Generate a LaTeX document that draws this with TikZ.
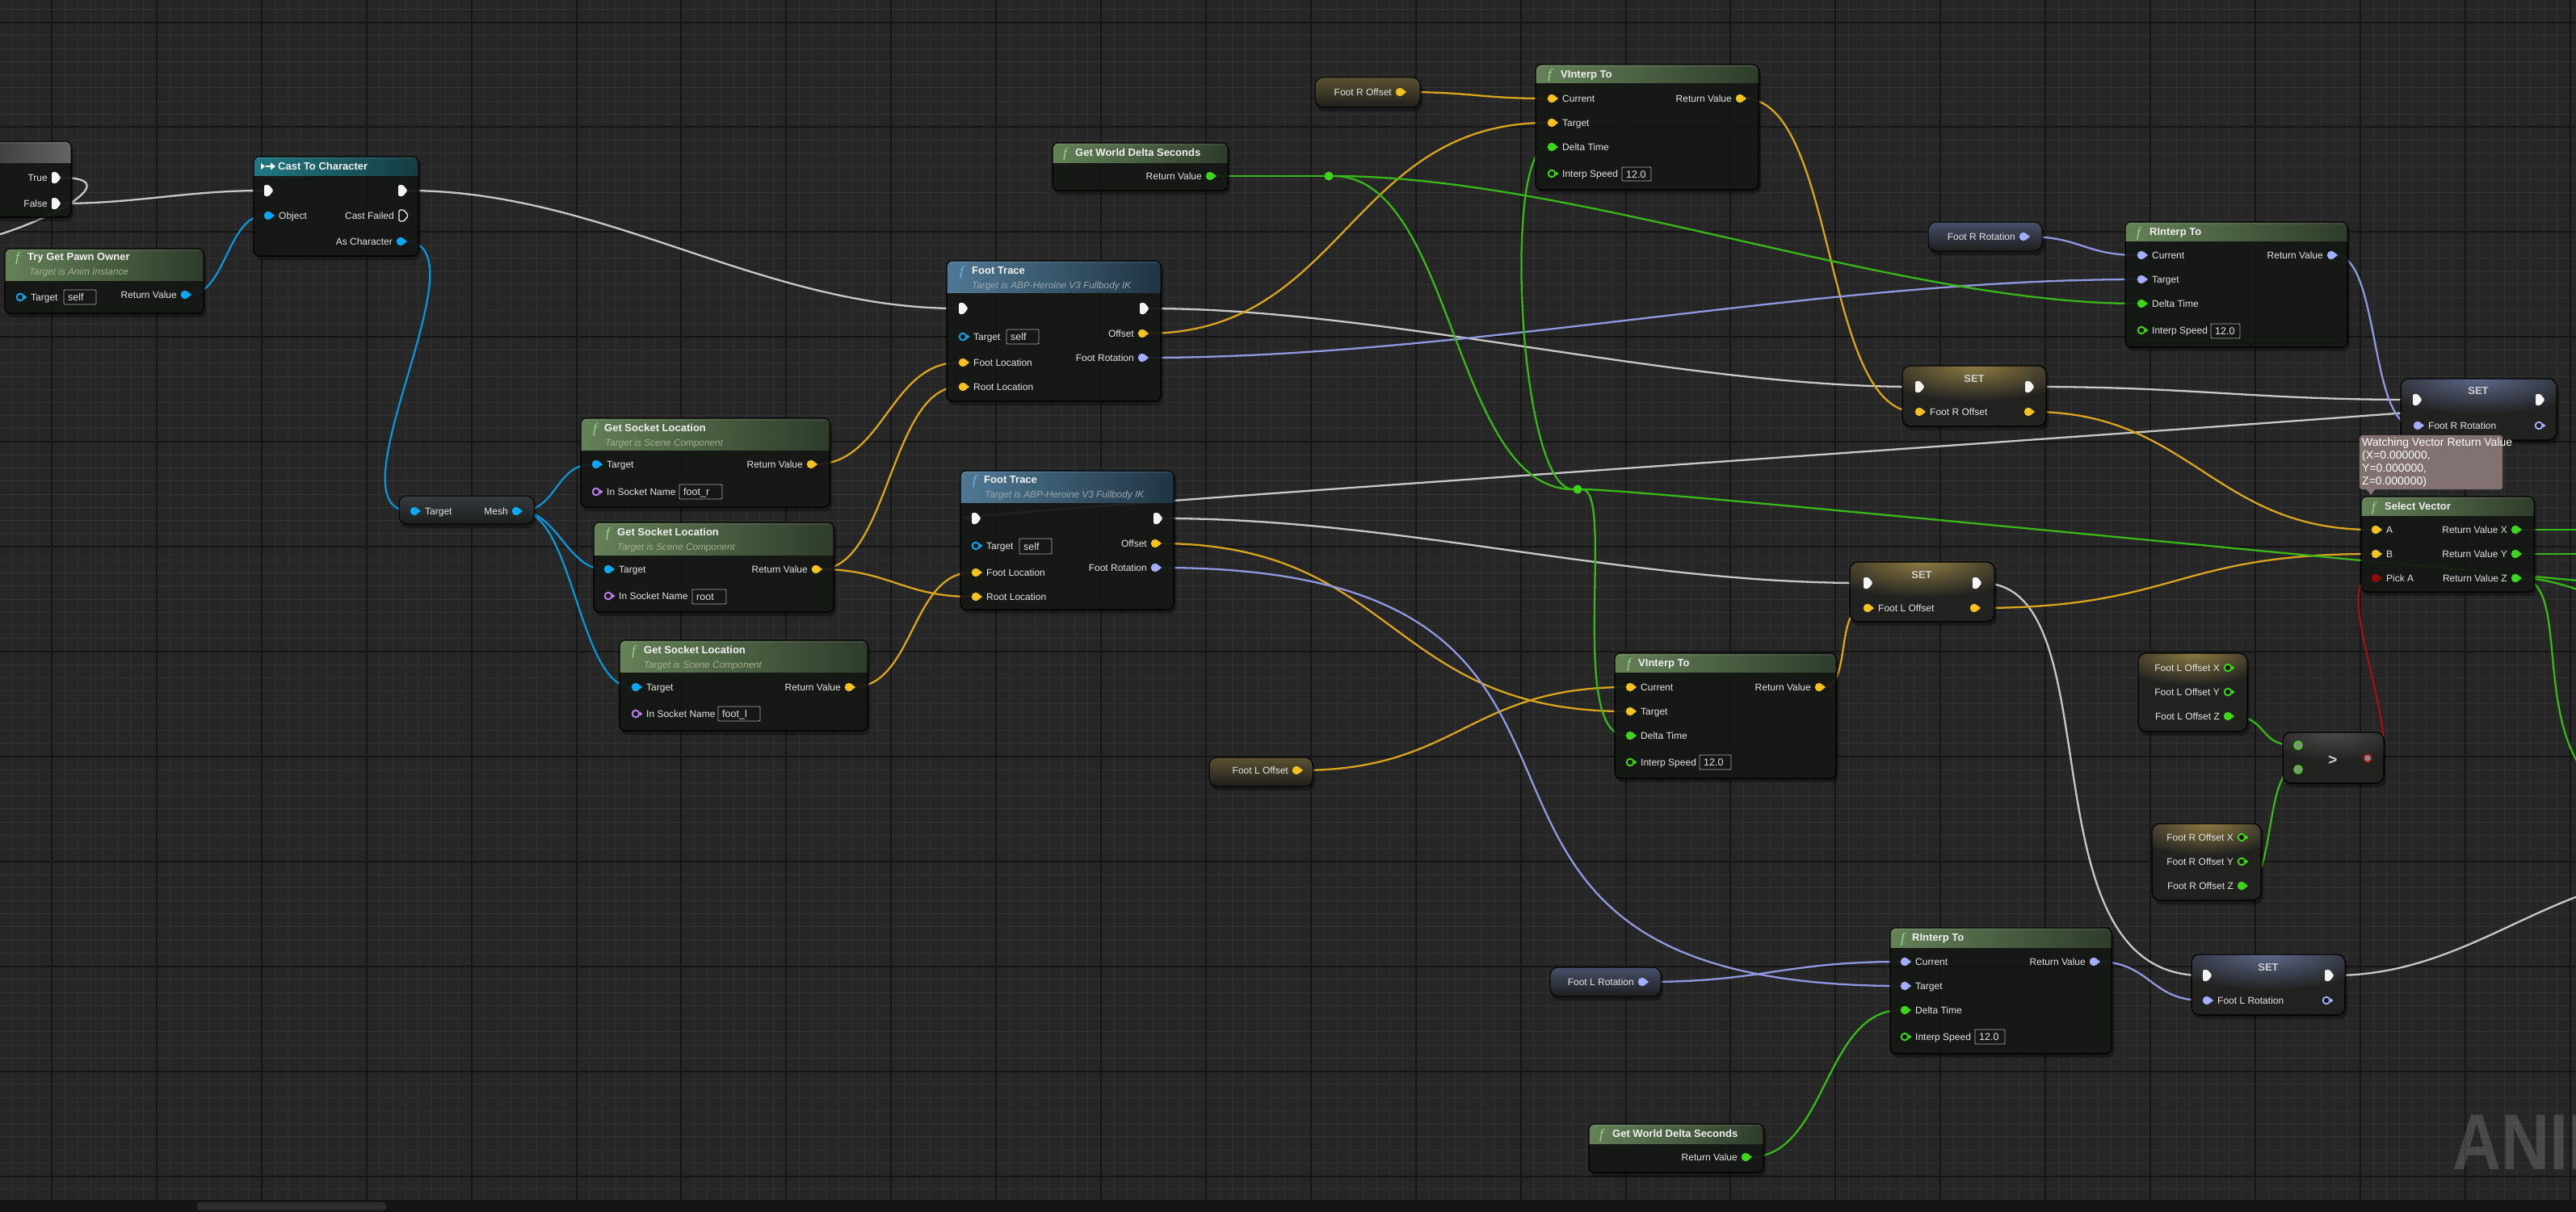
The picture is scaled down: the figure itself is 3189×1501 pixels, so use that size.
\documentclass[tikz,border=0pt]{standalone}
\usepackage{fontspec}
\setmainfont{Liberation Sans}
\newfontfamily\ficonfont{Liberation Serif}
\pgfdeclarelayer{gridlayer}
\pgfdeclarelayer{wirelayer}
\pgfsetlayers{gridlayer,wirelayer,main}
\definecolor{bgc}{HTML}{262626}
\definecolor{minorc}{HTML}{313131}
\definecolor{majorc}{HTML}{151515}
\definecolor{barc}{HTML}{151515}
\definecolor{thumbc}{HTML}{2C2C2C}
\definecolor{nodebody}{HTML}{151815}
\definecolor{labelc}{HTML}{E4E4E4}
\definecolor{titlec}{HTML}{F2F2F2}
\definecolor{setc}{HTML}{CFCFCF}
\definecolor{vboxc}{HTML}{ABABAB}
\definecolor{vecc}{HTML}{F5C21F}
\definecolor{vecw}{HTML}{D9A41E}
\definecolor{rotc}{HTML}{A3AEFF}
\definecolor{rotw}{HTML}{8E99E0}
\definecolor{objc}{HTML}{0EA8F2}
\definecolor{objw}{HTML}{0C92D6}
\definecolor{fltc}{HTML}{3ED51A}
\definecolor{fltw}{HTML}{38B818}
\definecolor{namec}{HTML}{C27CF2}
\definecolor{boolc}{HTML}{8E0B0B}
\definecolor{boolw}{HTML}{9E1212}
\definecolor{execc}{HTML}{F4F4F4}
\definecolor{execw}{HTML}{C8C8C8}
\definecolor{gL}{HTML}{6B8A5D}
\definecolor{gR}{HTML}{313F2D}
\definecolor{bL}{HTML}{55819F}
\definecolor{bR}{HTML}{223746}
\definecolor{tL}{HTML}{22808A}
\definecolor{tR}{HTML}{153F44}
\definecolor{brL}{HTML}{3C3C3C}
\definecolor{brR}{HTML}{6A6A6A}
\definecolor{subg}{HTML}{A2B08E}
\definecolor{subb}{HTML}{98A8B2}
\definecolor{ficg}{HTML}{A3D49A}
\definecolor{ficb}{HTML}{70B4EA}
\definecolor{setbody}{HTML}{212120}
\definecolor{glowy}{HTML}{8C7A42}
\definecolor{glowb}{HTML}{5C6788}
\definecolor{glowg}{HTML}{4A4A4A}
\definecolor{getbot}{HTML}{1D1D1C}
\definecolor{gety}{HTML}{5C5232}
\definecolor{getl}{HTML}{46506A}
\definecolor{meshtop}{HTML}{353B40}
\definecolor{watchc}{HTML}{877676}
\definecolor{cmpfill}{HTML}{8A8A8A}
\tikzset{
 wire/.style={line width=2.3pt, line cap=round},
 bpbody/.style={anchor=north west, inner sep=0pt, outer sep=0pt, fill=nodebody, fill opacity=0.9, draw=black, line width=1pt, rounded corners=7pt},
 gbody/.style={anchor=north west, inner sep=0pt, outer sep=0pt, draw=black, line width=1pt, rounded corners=10pt},
 pf/.style={circle, inner sep=0pt, outer sep=0pt, minimum size=10.5pt},
 ph/.style={circle, inner sep=0pt, outer sep=0pt, minimum size=8.6pt, line width=1.9pt, fill=nodebody},
 xp/.style={circle, inner sep=0pt, outer sep=0pt, minimum size=13pt},
 lbl/.style={font=\fontsize{12}{14}\selectfont, text=labelc, inner sep=0pt, anchor=base west},
 lblr/.style={lbl, anchor=base east},
 ttl/.style={font=\fontsize{13}{15}\selectfont\bfseries, text=titlec, inner sep=0pt, anchor=base west},
 subt/.style={font=\fontsize{11.8}{14}\selectfont\itshape, inner sep=0pt, anchor=base west},
 fic/.style={font=\ficonfont\fontsize{17}{17}\selectfont\itshape, inner sep=0pt, anchor=base west},
 settl/.style={font=\fontsize{13}{15}\selectfont\bfseries, text=setc, inner sep=0pt, anchor=base},
 vbox/.style={draw=vboxc, line width=0.9pt, rounded corners=1pt, inner sep=0pt},
 vtxt/.style={font=\fontsize{12.5}{14}\selectfont, text=labelc, inner sep=0pt, anchor=base west},
 knotdot/.style={circle, inner sep=0pt, outer sep=0pt, minimum size=11pt, fill=fltc},
 cmppin/.style={circle, inner sep=0pt, outer sep=0pt, minimum size=10pt, fill=cmpfill, line width=1.7pt},
}
% body node with header
\newcommand{\bpnode}[8]{%
  \fill[black, opacity=0.35, rounded corners=8pt] ({#2+2},{#3+3}) rectangle ({#4+3},{#5+5});
  \node[bpbody, minimum width={#4-(#2)}, minimum height={#5-(#3)}] (#1) at (#2,#3) {};
  \begin{scope}
    \clip[rounded corners=7pt] (#2,#3) rectangle (#4,#5);
    \shade[left color=#7, right color=#8, fill opacity=0.93] (#2,#3) rectangle (#4,#6);
    \fill[white, opacity=0.07] (#2,#3) rectangle (#4,{#3+3});
  \end{scope}
  \draw[black, line width=1pt, rounded corners=7pt] (#2,#3) rectangle (#4,#5);}
% variable getter node
\newcommand{\getnode}[6]{%
  \fill[black, opacity=0.35, rounded corners=10pt] ({#2+2},{#3+3}) rectangle ({#4+3},{#5+5});
  \node[gbody, minimum width={#4-(#2)}, minimum height={#5-(#3)}, top color=#6, bottom color=getbot] (#1) at (#2,#3) {};}
% node with glow at top
\newcommand{\glownode}[7]{%
  \fill[black, opacity=0.35, rounded corners=10pt] ({#2+2},{#3+3}) rectangle ({#4+3},{#5+5});
  \node[gbody, fill=setbody, minimum width={#4-(#2)}, minimum height={#5-(#3)}] (#1) at (#2,#3) {};
  \begin{scope}
    \clip[rounded corners=10pt] (#2,#3) rectangle (#4,#5);
    \shade[inner color=#6, outer color=setbody] ({(#2+#4)/2},{#3}) ellipse [x radius={(#4-(#2))*0.75}, y radius={2*#7}];
  \end{scope}
  \draw[black, line width=1pt, rounded corners=10pt] (#2,#3) rectangle (#4,#5);}
% pins
\newcommand{\PF}[4]{\node[pf, fill=#4] (#1) at (#2,#3) {};\fill[#4] ({#2+4.4},{#3-3}) -- ({#2+8},{#3}) -- ({#2+4.4},{#3+3}) -- cycle;}
\newcommand{\PH}[4]{\node[ph, draw=#4] (#1) at (#2,#3) {};\fill[#4] ({#2+5},{#3-2.8}) -- ({#2+8.4},{#3}) -- ({#2+5},{#3+2.8}) -- cycle;}
\newcommand{\PIN}[6]{\csname P#5\endcsname{#1}{#2}{#3}{#4}\node[lbl] (#1-l) at ({#2+13},{#3+4.3}) {#6};}
\newcommand{\POUT}[6]{\csname P#5\endcsname{#1}{#2}{#3}{#4}\node[lblr] (#1-l) at ({#2-10},{#3+4.3}) {#6};}
\newcommand{\XF}[3]{\node[xp] (#1) at (#2,#3) {};\fill[execc, rounded corners=1.5pt] ({#2-5},{#3-7}) -- ({#2+1},{#3-7}) -- ({#2+6.5},{#3}) -- ({#2+1},{#3+7}) -- ({#2-5},{#3+7}) -- cycle;}
\newcommand{\XH}[3]{\node[xp] (#1) at (#2,#3) {};\draw[execc, line width=1.3pt, rounded corners=1.5pt] ({#2-5},{#3-7}) -- ({#2+1},{#3-7}) -- ({#2+6.5},{#3}) -- ({#2+1},{#3+7}) -- ({#2-5},{#3+7}) -- cycle;}
\newcommand{\VB}[6]{\node[vbox, minimum width={#4-(#2)}, minimum height={#5-(#3)}] (#1) at ({(#2+#4)/2},{(#3+#5)/2}) {};\node[vtxt] (#1-t) at ({#2+5},{(#3+#5)/2+4.5}) {#6};}
\newcommand{\FI}[4]{\node[fic, text=#4] (#1) at (#2,#3) {f};}

\begin{document}
\begin{tikzpicture}[x=1pt,y=-1pt]
\useasboundingbox (0,0) rectangle (3189,1501);
\begin{pgfonlayer}{gridlayer}
 \fill[bgc] (0,0) rectangle (3189,1501);
 \foreach \i in {0,...,196}{\draw[minorc, line width=1pt] ({15.28+\i*16.2375},0) -- ({15.28+\i*16.2375},1501);}
 \foreach \i in {0,...,92}{\draw[minorc, line width=1pt] (0,{11.36+\i*16.2375}) -- (3189,{11.36+\i*16.2375});}
 \foreach \i in {0,...,24}{\draw[majorc, line width=2pt] ({64+\i*129.9},0) -- ({64+\i*129.9},1501);}
 \foreach \i in {0,...,11}{\draw[majorc, line width=2pt] (0,{27.6+\i*129.9}) -- (3189,{27.6+\i*129.9});}
 \node[anchor=base west, inner sep=0pt, font=\fontsize{98}{98}\selectfont\bfseries, text=white, text opacity=0.16, xscale=0.85] (wm) at (3036,1448) {ANIMATION};
 \fill[barc] (0,1486) rectangle (3189,1501);
 \fill[thumbc, rounded corners=3pt] (244,1489) rectangle (478,1499);
\end{pgfonlayer}

% off-screen wire ends
\coordinate (offtrue) at (-20,296);
\coordinate (offexec) at (3300,1085);
\coordinate (offk) at (3400,735);
\coordinate (offx) at (3260,656);
\coordinate (offy) at (3260,686);
\coordinate (offz1) at (3260,742);
\coordinate (offz2) at (3300,1000);

% Branch (partial)
\bpnode{branch}{-20}{175}{88}{269}{201}{brL}{brR}
\XF{brtrue}{69}{220}\node[lblr] (brtrue-l) at (59,224.3) {True};
\XF{brfalse}{69}{252}\node[lblr] (brfalse-l) at (59,256.3) {False};

% Cast To Character
\bpnode{cast}{314}{194}{518}{317}{217}{tL}{tR}
\fill[white] (323,202) -- (328,206) -- (323,210) -- cycle;
\draw[white, line width=1.4pt] (329,206) -- (337,206);
\fill[white] (335,201.5) -- (341,206) -- (335,210.5) -- cycle;
\node[ttl] (cast-t) at (344,210.7) {Cast To Character};
\XF{castin}{332}{236}\XF{castout}{498}{236}
\PIN{castobj}{332}{267}{objc}{F}{Object}
\XH{castfail}{499}{267}\node[lblr] (castfail-l) at (488,271.3) {Cast Failed};
\POUT{castas}{496}{299}{objc}{F}{As Character}

% Try Get Pawn Owner
\bpnode{tgpo}{6}{308}{252}{388}{347}{gL}{gR}
\FI{tgpo-f}{19}{324}{ficg}
\node[ttl] (tgpo-t) at (34,322.7) {Try Get Pawn Owner};
\node[subt, text=subg] (tgpo-s) at (36,340) {Target is Anim Instance};
\PIN{tgpotgt}{25}{368}{objc}{H}{Target}
\VB{tgpoself}{79}{359}{119}{377}{self}
\POUT{tgporet}{229}{365}{objc}{F}{Return Value}

% Mesh getter
\getnode{mesh}{494}{614}{661}{649}{meshtop}
\PIN{meshtgt}{513}{633}{objc}{F}{Target}
\POUT{meshout}{639}{633}{objc}{F}{Mesh}

% Get Socket Location x3
\bpnode{gsl1}{719}{518}{1027}{628}{557}{gL}{gR}
\FI{gsl1-f}{734}{536}{ficg}
\node[ttl] (gsl1-t) at (748,534.7) {Get Socket Location};
\node[subt, text=subg] (gsl1-s) at (749,552) {Target is Scene Component};
\PIN{gsl1tgt}{738}{575}{objc}{F}{Target}
\PIN{gsl1sock}{738}{609}{namec}{H}{In Socket Name}
\VB{gsl1box}{841}{600}{894}{618}{foot\_r}
\POUT{gsl1ret}{1004}{575}{vecc}{F}{Return Value}

\bpnode{gsl2}{735}{647}{1032}{758}{687}{gL}{gR}
\FI{gsl2-f}{750}{665}{ficg}
\node[ttl] (gsl2-t) at (764,663.7) {Get Socket Location};
\node[subt, text=subg] (gsl2-s) at (764,681) {Target is Scene Component};
\PIN{gsl2tgt}{753}{705}{objc}{F}{Target}
\PIN{gsl2sock}{753}{738}{namec}{H}{In Socket Name}
\VB{gsl2box}{857}{730}{899}{748}{root}
\POUT{gsl2ret}{1010}{705}{vecc}{F}{Return Value}

\bpnode{gsl3}{767}{793}{1074}{905}{832}{gL}{gR}
\FI{gsl3-f}{782}{811}{ficg}
\node[ttl] (gsl3-t) at (797,809.7) {Get Socket Location};
\node[subt, text=subg] (gsl3-s) at (797,827) {Target is Scene Component};
\PIN{gsl3tgt}{787}{851}{objc}{F}{Target}
\PIN{gsl3sock}{787}{884}{namec}{H}{In Socket Name}
\VB{gsl3box}{889}{875}{941}{893}{foot\_l}
\POUT{gsl3ret}{1051}{851}{vecc}{F}{Return Value}

% Foot Trace 1
\bpnode{ft1}{1172}{323}{1437}{497}{362}{bL}{bR}
\FI{ft1-f}{1188}{341}{ficb}
\node[ttl] (ft1-t) at (1203,339.7) {Foot Trace};
\node[subt, text=subb] (ft1-s) at (1203,357) {Target is ABP-Heroine V3 Fullbody IK};
\XF{ft1in}{1192}{382}\XF{ft1out}{1416}{382}
\PIN{ft1tgt}{1192}{417}{objc}{H}{Target}
\VB{ft1self}{1246}{408}{1286}{426}{self}
\PIN{ft1foot}{1192}{449}{vecc}{F}{Foot Location}
\PIN{ft1root}{1192}{479}{vecc}{F}{Root Location}
\POUT{ft1off}{1414}{413}{vecc}{F}{Offset}
\POUT{ft1rot}{1414}{443}{rotc}{F}{Foot Rotation}

% Foot Trace 2
\bpnode{ft2}{1189}{583}{1453}{755}{622}{bL}{bR}
\FI{ft2-f}{1204}{600}{ficb}
\node[ttl] (ft2-t) at (1218,598.7) {Foot Trace};
\node[subt, text=subb] (ft2-s) at (1219,616) {Target is ABP-Heroine V3 Fullbody IK};
\XF{ft2in}{1208}{642}\XF{ft2out}{1433}{642}
\PIN{ft2tgt}{1208}{676}{objc}{H}{Target}
\VB{ft2self}{1262}{667}{1302}{686}{self}
\PIN{ft2foot}{1208}{709}{vecc}{F}{Foot Location}
\PIN{ft2root}{1208}{739}{vecc}{F}{Root Location}
\POUT{ft2off}{1430}{673}{vecc}{F}{Offset}
\POUT{ft2rot}{1430}{703}{rotc}{F}{Foot Rotation}

% Getters
\getnode{frog}{1628}{96}{1758}{133}{gety}
\POUT{frogt}{1733}{114}{vecc}{F}{Foot R Offset}
\getnode{flog}{1497}{938}{1625}{974}{gety}
\POUT{flogt}{1605}{954}{vecc}{F}{Foot L Offset}
\getnode{frr}{2387}{275}{2528}{311}{getl}
\POUT{frrgt}{2505}{293}{rotc}{F}{Foot R Rotation}
\getnode{flr}{1919}{1198}{2056}{1234}{getl}
\POUT{flrgt}{2033}{1216}{rotc}{F}{Foot L Rotation}

% Get World Delta Seconds (top)
\bpnode{gwds1n}{1303}{177}{1520}{236}{201}{gL}{gR}
\FI{gwds1n-f}{1316}{195}{ficg}
\node[ttl] (gwds1n-t) at (1331,193.7) {Get World Delta Seconds};
\POUT{gwds1}{1498}{218}{fltc}{F}{Return Value}
\node[knotdot] (knot1) at (1645,218) {};
\node[knotdot] (knot2) at (1953,606) {};

% VInterp To (top)
\bpnode{vi1}{1901}{80}{2177}{235}{103}{gL}{gR}
\FI{vi1-f}{1916}{98}{ficg}
\node[ttl] (vi1-t) at (1932,96.7) {VInterp To};
\PIN{vi1cur}{1921}{122}{vecc}{F}{Current}
\PIN{vi1tgt}{1921}{152}{vecc}{F}{Target}
\PIN{vi1dt}{1921}{182}{fltc}{F}{Delta Time}
\PIN{vi1spd}{1921}{215}{fltc}{H}{Interp Speed}
\VB{vi1box}{2008}{207}{2044}{224}{12.0}
\POUT{vi1ret}{2154}{122}{vecc}{F}{Return Value}

% VInterp To (bottom)
\bpnode{vi2}{1999}{809}{2273}{964}{832}{gL}{gR}
\FI{vi2-f}{2014}{827}{ficg}
\node[ttl] (vi2-t) at (2028,825.7) {VInterp To};
\PIN{vi2cur}{2018}{851}{vecc}{F}{Current}
\PIN{vi2tgt}{2018}{881}{vecc}{F}{Target}
\PIN{vi2dt}{2018}{911}{fltc}{F}{Delta Time}
\PIN{vi2spd}{2018}{944}{fltc}{H}{Interp Speed}
\VB{vi2box}{2104}{935}{2143}{953}{12.0}
\POUT{vi2ret}{2252}{851}{vecc}{F}{Return Value}

% RInterp To (top)
\bpnode{ri1}{2631}{275}{2906}{430}{298}{gL}{gR}
\FI{ri1-f}{2645}{293}{ficg}
\node[ttl] (ri1-t) at (2661,291.7) {RInterp To};
\PIN{ri1cur}{2651}{316}{rotc}{F}{Current}
\PIN{ri1tgt}{2651}{346}{rotc}{F}{Target}
\PIN{ri1dt}{2651}{376}{fltc}{F}{Delta Time}
\PIN{ri1spd}{2651}{409}{fltc}{H}{Interp Speed}
\VB{ri1box}{2737}{401}{2773}{419}{12.0}
\POUT{ri1ret}{2886}{316}{rotc}{F}{Return Value}

% RInterp To (bottom)
\bpnode{ri2}{2340}{1149}{2614}{1305}{1173}{gL}{gR}
\FI{ri2-f}{2353}{1167}{ficg}
\node[ttl] (ri2-t) at (2367,1165.7) {RInterp To};
\PIN{ri2cur}{2358}{1191}{rotc}{F}{Current}
\PIN{ri2tgt}{2358}{1221}{rotc}{F}{Target}
\PIN{ri2dt}{2358}{1251}{fltc}{F}{Delta Time}
\PIN{ri2spd}{2358}{1284}{fltc}{H}{Interp Speed}
\VB{ri2box}{2445}{1275}{2482}{1293}{12.0}
\POUT{ri2ret}{2592}{1191}{rotc}{F}{Return Value}

% Get World Delta Seconds (bottom)
\bpnode{gwds2n}{1967}{1392}{2183}{1452}{1416}{gL}{gR}
\FI{gwds2n-f}{1980}{1410}{ficg}
\node[ttl] (gwds2n-t) at (1996,1408.7) {Get World Delta Seconds};
\POUT{gwds2}{2161}{1433}{fltc}{F}{Return Value}

% SET nodes
\glownode{setro}{2355}{453}{2533}{528}{glowy}{22}
\node[settl] (setro-t) at (2444,473) {SET};
\XF{setroin}{2376}{479}\XF{setroout}{2512}{479}
\PIN{setroval}{2376}{510}{vecc}{F}{Foot R Offset}
\PF{setroo}{2511}{510}{vecc}

\glownode{setrr}{2972}{469}{3165}{545}{glowb}{22}
\node[settl] (setrr-t) at (3068,488) {SET};
\XF{setrrin}{2992}{495}\XF{setrrout}{3144}{495}
\PIN{setrrval}{2993}{527}{rotc}{F}{Foot R Rotation}
\PH{setrro}{3143}{527}{rotc}

\glownode{setlo}{2290}{696}{2469}{770}{glowy}{22}
\node[settl] (setlo-t) at (2379,716) {SET};
\XF{setloin}{2312}{722}\XF{setloout}{2447}{722}
\PIN{setloval}{2312}{753}{vecc}{F}{Foot L Offset}
\PF{setloo}{2444}{753}{vecc}

\glownode{setlr}{2713}{1182}{2903}{1257}{glowb}{22}
\node[settl] (setlr-t) at (2808,1202) {SET};
\XF{setlrin}{2732}{1208}\XF{setlrout}{2883}{1208}
\PIN{setlrval}{2732}{1239}{rotc}{F}{Foot L Rotation}
\PH{setlro}{2880}{1239}{rotc}

% Watch bubble
\node[anchor=north west, fill=watchc, fill opacity=0.95, rounded corners=3pt, inner sep=0pt, minimum width=177pt, minimum height=67pt] (watch) at (2921,539) {};
\fill[watchc] (2929,605) -- (2935,613) -- (2941,605) -- cycle;
\node[anchor=north west, align=left, inner sep=0pt, font=\fontsize{14}{16}\selectfont, text=white] (watch-t) at (2924,542) {Watching Vector Return Value\\(X=0.000000,\\Y=0.000000,\\Z=0.000000)};

% Select Vector
\bpnode{sv}{2923}{615}{3137}{733}{638}{gL}{gR}
\FI{sv-f}{2936}{633}{ficg}
\node[ttl] (sv-t) at (2952,631.7) {Select Vector};
\PIN{sva}{2941}{656}{vecc}{F}{A}
\PIN{svb}{2941}{686}{vecc}{F}{B}
\PIN{svp}{2941}{716}{boolc}{F}{Pick A}
\POUT{svx}{3114}{656}{fltc}{F}{Return Value X}
\POUT{svy}{3114}{686}{fltc}{F}{Return Value Y}
\POUT{svz}{3114}{716}{fltc}{F}{Return Value Z}

% Break nodes
\glownode{brkl}{2647}{809}{2782}{906}{glowy}{20}
\POUT{blx}{2758}{827}{fltc}{H}{Foot L Offset X}
\POUT{bly}{2758}{857}{fltc}{H}{Foot L Offset Y}
\POUT{blz}{2758}{887}{fltc}{F}{Foot L Offset Z}
\glownode{brkr}{2664}{1020}{2799}{1115}{glowy}{20}
\POUT{brx}{2775}{1037}{fltc}{H}{Foot R Offset X}
\POUT{bry}{2775}{1067}{fltc}{H}{Foot R Offset Y}
\POUT{brz}{2775}{1097}{fltc}{F}{Foot R Offset Z}

% Compare
\glownode{cmp}{2826}{907}{2951}{970}{glowg}{18}
\node[font=\fontsize{19}{19}\selectfont\bfseries, text=setc, inner sep=0pt, anchor=base] (cmp-t) at (2888,947) {>};
\node[cmppin, draw=fltc] (cmpa) at (2845,923) {};
\node[cmppin, draw=fltc] (cmpb) at (2845,953) {};
\node[cmppin, draw=boolw] (cmpo) at (2931,939) {};

% ---------------- wires ----------------
\begin{pgfonlayer}{wirelayer}
 % exec
 \draw[wire, execw] (brtrue) .. controls (160,220) and (60,275) .. (offtrue);
 \draw[wire, execw] (brfalse) .. controls +(100,0) and +(-100,0) .. (castin);
 \draw[wire, execw] (castout) .. controls +(250,0) and +(-250,0) .. (ft1in);
 \draw[wire, execw] (ft1out) .. controls +(300,0) and +(-300,0) .. (setroin);
 \draw[wire, execw] (setroout) .. controls +(200,0) and +(-200,0) .. (setrrin);
 \draw[wire, execw] (setrrout) .. controls +(150,0) and +(-150,0) .. (ft2in);
 \draw[wire, execw] (ft2out) .. controls +(300,0) and +(-300,0) .. (setloin);
 \draw[wire, execw] (setloout) .. controls (2620,722) and (2500,1208) .. (setlrin);
 \draw[wire, execw] (setlrout) .. controls +(170,0) and +(-150,10) .. (offexec);
 % object
 \draw[wire, objw] (tgporet) .. controls +(50,0) and +(-50,0) .. (castobj);
 \draw[wire, objw] (castas) .. controls +(110,0) and +(-110,0) .. (meshtgt);
 \draw[wire, objw] (meshout) .. controls +(50,0) and +(-50,0) .. (gsl1tgt);
 \draw[wire, objw] (meshout) .. controls +(50,0) and +(-50,0) .. (gsl2tgt);
 \draw[wire, objw] (meshout) .. controls +(70,0) and +(-70,0) .. (gsl3tgt);
 % vector
 \draw[wire, vecw] (gsl1ret) .. controls +(90,0) and +(-90,0) .. (ft1foot);
 \draw[wire, vecw] (gsl2ret) .. controls +(90,0) and +(-90,0) .. (ft1root);
 \draw[wire, vecw] (gsl2ret) .. controls +(90,0) and +(-90,0) .. (ft2root);
 \draw[wire, vecw] (gsl3ret) .. controls +(80,0) and +(-80,0) .. (ft2foot);
 \draw[wire, vecw] (frogt) .. controls +(90,0) and +(-90,0) .. (vi1cur);
 \draw[wire, vecw] (ft1off) .. controls +(250,0) and +(-250,0) .. (vi1tgt);
 \draw[wire, vecw] (vi1ret) .. controls +(120,0) and +(-120,0) .. (setroval);
 \draw[wire, vecw] (setroo) .. controls +(200,0) and +(-200,0) .. (sva);
 \draw[wire, vecw] (ft2off) .. controls +(300,0) and +(-300,0) .. (vi2tgt);
 \draw[wire, vecw] (flogt) .. controls +(200,0) and +(-200,0) .. (vi2cur);
 \draw[wire, vecw] (vi2ret) .. controls +(40,0) and +(-40,0) .. (setloval);
 \draw[wire, vecw] (setloo) .. controls +(250,0) and +(-250,0) .. (svb);
 % rotator
 \draw[wire, rotw] (frrgt) .. controls +(70,0) and +(-70,0) .. (ri1cur);
 \draw[wire, rotw] (ft1rot) .. controls +(400,0) and +(-400,0) .. (ri1tgt);
 \draw[wire, rotw] (ri1ret) .. controls +(60,0) and +(-60,0) .. (setrrval);
 \draw[wire, rotw] (ft2rot) .. controls +(700,0) and +(-700,0) .. (ri2tgt);
 \draw[wire, rotw] (flrgt) .. controls +(150,0) and +(-150,0) .. (ri2cur);
 \draw[wire, rotw] (ri2ret) .. controls +(70,0) and +(-70,0) .. (setlrval);
 % float
 \draw[wire, fltw] (gwds1) -- (knot1);
 \draw[wire, fltw] (knot1) .. controls +(305,0) and +(-300,0) .. (ri1dt);
 \draw[wire, fltw] (knot1) .. controls +(155,0) and +(-155,0) .. (knot2);
 \draw[wire, fltw] (vi1dt) .. controls +(-61,0) and +(-73,0) .. (knot2);
 \draw[wire, fltw] (knot2) .. controls +(47,0) and +(-78,0) .. (vi2dt);
 \draw[wire, fltw] (knot2) .. controls +(100,0) and +(-100,0) .. (offk);
 \draw[wire, fltw] (gwds2) .. controls +(100,0) and +(-100,0) .. (ri2dt);
 \draw[wire, fltw] (blz) .. controls +(50,0) and +(-50,0) .. (cmpa);
 \draw[wire, fltw] (brz) .. controls +(40,0) and +(-40,0) .. (cmpb);
 \draw[wire, fltw] (svx) -- (offx);
 \draw[wire, fltw] (svy) -- (offy);
 \draw[wire, fltw] (svz) .. controls +(60,0) and +(-60,0) .. (offz1);
 \draw[wire, fltw] (svz) .. controls +(86,0) and +(-200,0) .. (offz2);
 % bool
 \draw[wire, boolw] (cmpo) .. controls +(55,0) and +(-60,0) .. (svp);
\end{pgfonlayer}
\end{tikzpicture}
\end{document}
